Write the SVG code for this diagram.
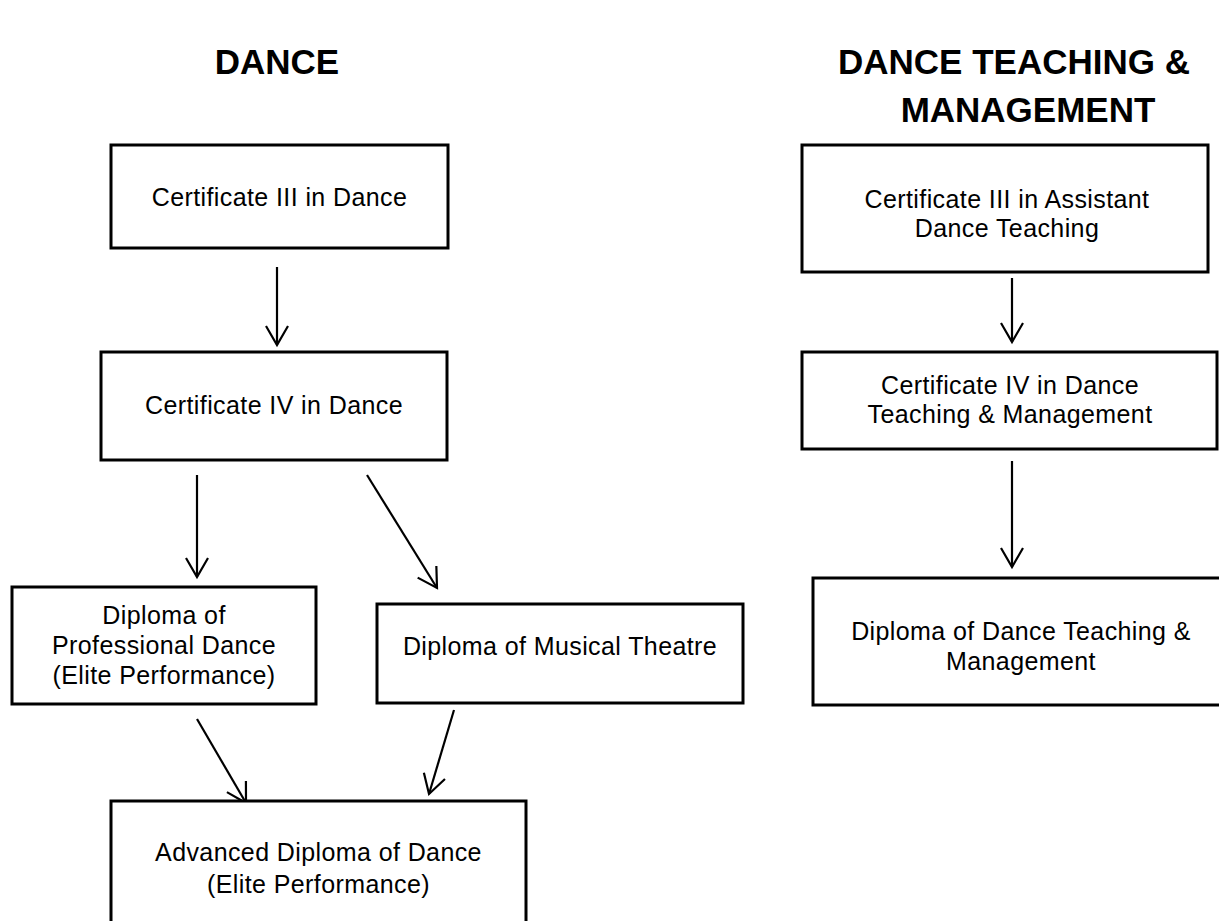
<svg xmlns="http://www.w3.org/2000/svg" width="1219" height="921" viewBox="0 0 1219 921">
<style>
.box{fill:#fff;stroke:#000;stroke-width:3}
.t{font-family:"Liberation Sans",Arial,sans-serif;font-size:25px;letter-spacing:0.4px;fill:#000;text-anchor:middle}
.h{font-family:"Liberation Sans",Arial,sans-serif;font-size:35px;font-weight:bold;fill:#000;text-anchor:middle}
.c{stroke:#000;stroke-width:2.2;fill:none}
</style>
<defs>
<marker id="arr" markerUnits="userSpaceOnUse" markerWidth="24" markerHeight="26" viewBox="-2 -2 24 26" refX="19" refY="11" orient="auto">
<path d="M0,0 L19,11 L0,22" fill="none" stroke="#000" stroke-width="2.2"/>
</marker>
</defs>
<rect width="1219" height="921" fill="#fff"/>
<g id="titles">
<text class="h" x="277" y="74">DANCE</text>
<text class="h" x="1014" y="74">DANCE TEACHING &amp;</text>
<text class="h" x="1028" y="122">MANAGEMENT</text>
</g>
<g id="connectors">
<line class="c" x1="277" y1="267" x2="277" y2="345" marker-end="url(#arr)"/>
<line class="c" x1="197" y1="475" x2="197" y2="577" marker-end="url(#arr)"/>
<line class="c" x1="367" y1="475" x2="437" y2="588" marker-end="url(#arr)"/>
<line class="c" x1="197" y1="719" x2="246" y2="803" marker-end="url(#arr)"/>
<line class="c" x1="454" y1="710" x2="429" y2="794" marker-end="url(#arr)"/>
<line class="c" x1="1012" y1="278" x2="1012" y2="342" marker-end="url(#arr)"/>
<line class="c" x1="1012" y1="461" x2="1012" y2="567" marker-end="url(#arr)"/>
</g>
<g id="cert3-dance">
<rect class="box" x="111" y="145" width="337" height="103"/>
<text class="t" x="279.5" y="206">Certificate III in Dance</text>
</g>
<g id="cert4-dance">
<rect class="box" x="101" y="352" width="346" height="108"/>
<text class="t" x="274" y="414">Certificate IV in Dance</text>
</g>
<g id="dip-prof-dance">
<rect class="box" x="12" y="587" width="304" height="117"/>
<text class="t" x="164" y="624">Diploma of</text>
<text class="t" x="164" y="654">Professional Dance</text>
<text class="t" x="164" y="684">(Elite Performance)</text>
</g>
<g id="dip-musical-theatre">
<rect class="box" x="377" y="604" width="366" height="99"/>
<text class="t" x="560" y="655">Diploma of Musical Theatre</text>
</g>
<g id="adv-dip-dance">
<rect class="box" x="111" y="801" width="415" height="160"/>
<text class="t" x="318.5" y="861">Advanced Diploma of Dance</text>
<text class="t" x="318.5" y="893">(Elite Performance)</text>
</g>
<g id="cert3-teaching">
<rect class="box" x="802" y="145" width="406" height="127"/>
<text class="t" x="1007" y="208">Certificate III in Assistant</text>
<text class="t" x="1007" y="237">Dance Teaching</text>
</g>
<g id="cert4-teaching">
<rect class="box" x="802" y="352" width="415" height="97"/>
<text class="t" x="1010" y="394">Certificate IV in Dance</text>
<text class="t" x="1010" y="423">Teaching &amp; Management</text>
</g>
<g id="dip-teaching">
<rect class="box" x="813" y="578" width="420" height="127"/>
<text class="t" x="1021" y="640">Diploma of Dance Teaching &amp;</text>
<text class="t" x="1021" y="670">Management</text>
</g>
</svg>
